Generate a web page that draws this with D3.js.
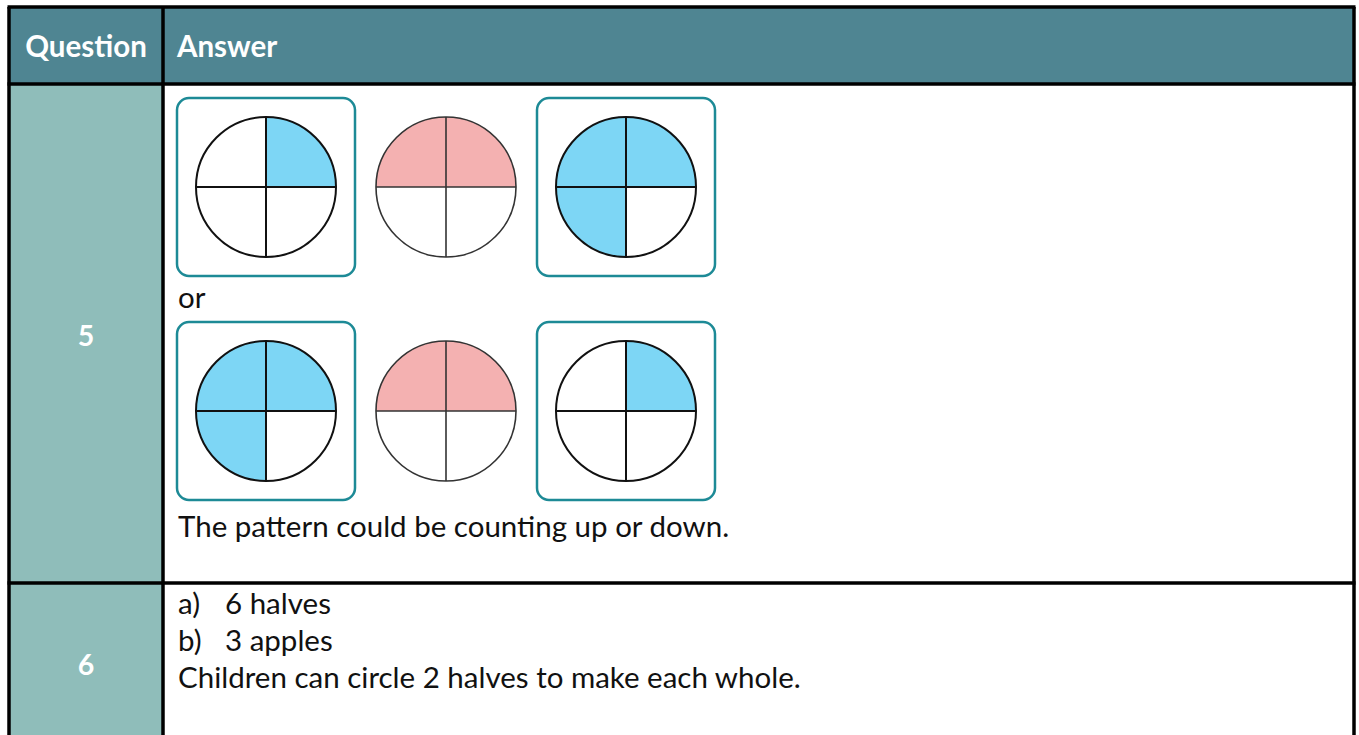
<!DOCTYPE html>
<html>
<head>
<meta charset="utf-8">
<script src="https://cdn.jsdelivr.net/npm/d3@7"></script>
<style>
  body { margin: 0; background: #fff; }
  text { font-family: Lato, "Open Sans", sans-serif; }
</style>
</head>
<body>
<script>
// table content
const headers = ["Question", "Answer"]
const questions = ["5", "6"]
const orText = "or"
const patternNote = "The pattern could be counting up or down."
const q6Lines = ["a)", "b)"]
const q6Answers = ["6 halves", "3 apples"]
const q6Note = "Children can circle 2 halves to make each whole."

// quarters shaded per circle: tr, br, bl, tl  (1 = shaded)
const patternRows = [
  [[1, 0, 0, 0], [1, 0, 0, 1], [1, 0, 1, 1]],
  [[1, 0, 1, 1], [1, 0, 0, 1], [1, 0, 0, 0]]
]
const circleColor = ["blue", "pink", "blue"]
const boxed = [true, false, true]

const W = 1359, H = 735
const colors = {
  head: "#4f8592", side: "#8fbdba", blue: "#7dd6f5", pink: "#f4b1b1",
  box: "#1d8a96", line: "#000"
}

const svg = d3.select("body").append("svg")
  .attr("width", W).attr("height", H)

// layout
const left = 9, right = 1354, split = 163
const rowY = [7, 84, 583, 760]
const fs = 29.5

// backgrounds
svg.append("rect").attr("x", left).attr("y", rowY[0])
  .attr("width", right - left).attr("height", rowY[1] - rowY[0])
  .attr("fill", colors.head)
svg.append("rect").attr("x", left).attr("y", rowY[1])
  .attr("width", split - left).attr("height", H - rowY[1])
  .attr("fill", colors.side)

// grid lines
const grid = svg.append("g").attr("stroke", colors.line).attr("stroke-width", 3.5)
rowY.slice(0, 3).forEach(y => {
  grid.append("line").attr("x1", left - 1.5).attr("x2", right + 1.5).attr("y1", y).attr("y2", y)
})
;[left, split, right].forEach(x => {
  grid.append("line").attr("x1", x).attr("x2", x).attr("y1", rowY[0]).attr("y2", H)
})

// header text
svg.selectAll(".head").data(headers).enter().append("text")
  .attr("class", "head")
  .attr("x", (d, i) => i === 0 ? (left + split) / 2 : split + 14)
  .attr("y", 57)
  .attr("text-anchor", (d, i) => i === 0 ? "middle" : "start")
  .attr("font-weight", "bold").attr("font-size", fs)
  .attr("fill", "#fff")
  .text(d => d)

// question numbers
svg.selectAll(".qnum").data(questions).enter().append("text")
  .attr("class", "qnum")
  .attr("x", (left + split) / 2)
  .attr("y", (d, i) => [346, 675][i])
  .attr("text-anchor", "middle")
  .attr("font-weight", "bold").attr("font-size", fs - 1)
  .attr("fill", "#fff")
  .text(d => d)

// circles
const xScale = d3.scaleBand().domain(d3.range(3)).range([176, 716]).paddingInner(0)
const yScale = d3.scaleBand().domain(d3.range(2)).range([97, 501]).paddingInner(44 / 224)
const r = 70
const boxSize = 180
const arc = d3.arc().innerRadius(0).outerRadius(r)

patternRows.forEach((row, ri) => {
  row.forEach((quarters, ci) => {
    const x0 = xScale(ci), y0 = yScale(ri)
    const cx = x0 + boxSize / 2, cy = y0 + boxSize / 2
    const g = svg.append("g").attr("transform", `translate(${cx},${cy})`)
    if (boxed[ci]) {
      g.append("rect").attr("x", -boxSize / 2 + 1).attr("y", -boxSize / 2 + 1)
        .attr("width", boxSize - 2).attr("height", boxSize - 2)
        .attr("rx", 12)
        .attr("fill", "#fff").attr("stroke", colors.box).attr("stroke-width", 2.5)
    }
    g.selectAll("path").data(quarters).enter().append("path")
      .attr("d", (d, i) => arc({ startAngle: i * Math.PI / 2, endAngle: (i + 1) * Math.PI / 2 }))
      .attr("fill", d => d ? colors[circleColor[ci]] : "#fff")
    const ink = boxed[ci] ? "#111" : "#333"
    const sw = boxed[ci] ? 2 : 1.6
    g.append("circle").attr("r", r).attr("fill", "none")
      .attr("stroke", ink).attr("stroke-width", sw)
    g.append("line").attr("x1", 0).attr("x2", 0).attr("y1", -r).attr("y2", r)
      .attr("stroke", ink).attr("stroke-width", sw)
    g.append("line").attr("x1", -r).attr("x2", r).attr("y1", 0).attr("y2", 0)
      .attr("stroke", ink).attr("stroke-width", sw)
  })
})

// answer text
const body = svg.append("g").attr("font-size", fs).attr("fill", "#111")
body.append("text").attr("x", 178).attr("y", 308).text(orText)
body.selectAll(".lab").data(q6Lines).enter().append("text")
  .attr("class", "lab")
  .attr("x", 178).attr("y", (d, i) => 614 + i * 37)
  .text(d => d)
body.selectAll(".ans").data(q6Answers).enter().append("text")
  .attr("class", "ans")
  .attr("x", 225).attr("y", (d, i) => 614 + i * 37)
  .text(d => d)
body.append("text").attr("x", 178).attr("y", 537).text(patternNote)
body.append("text").attr("x", 178).attr("y", 688).text(q6Note)
</script>
</body>
</html>
